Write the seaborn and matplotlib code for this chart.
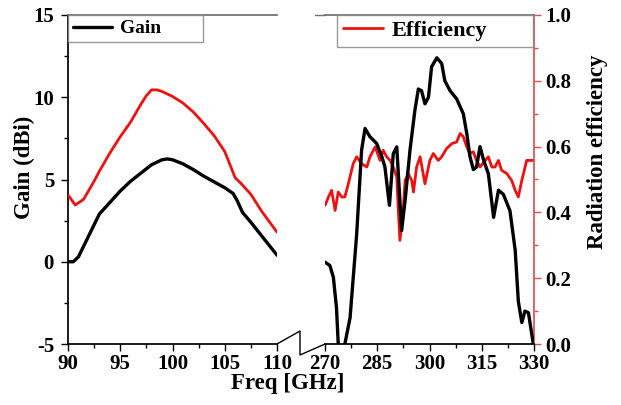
import numpy as np
import pandas as pd
import matplotlib
matplotlib.use("Agg")
import matplotlib.pyplot as plt
from matplotlib.lines import Line2D
from matplotlib.ticker import MultipleLocator
import seaborn as sns

# ---------------- data ----------------
# W-band (90-110 GHz)
freq_low_gain = [90, 90.5, 91, 92, 93, 94, 95, 96, 97, 98, 99, 99.5, 100, 101, 102,
                 103, 104, 105, 105.8, 106.2, 106.7, 107.5, 108.5, 110]
gain_low = [0.0, 0.0, 0.3, 1.6, 2.9, 3.6, 4.3, 4.9, 5.4, 5.9, 6.2, 6.25, 6.2, 5.95,
            5.6, 5.2, 4.85, 4.5, 4.15, 3.7, 3.0, 2.4, 1.6, 0.4]

freq_low_eff = [90, 90.7, 91.5, 92.5, 93, 94, 95, 96, 97, 97.5, 98, 98.5, 99, 100,
                101, 102, 103, 104, 105, 106, 106.5, 107.5, 108.5, 110]
eff_low = [0.453, 0.4225, 0.44, 0.495, 0.525, 0.58, 0.63, 0.675, 0.73, 0.755, 0.7725,
           0.7725, 0.7675, 0.7525, 0.7325, 0.705, 0.67, 0.6325, 0.585, 0.505, 0.49,
           0.455, 0.405, 0.34]

# Sub-THz band (270-330 GHz)
freq_high_gain = [270, 271.4, 272.4, 273.3, 273.8, 274.7, 275.7, 277.2, 279.1, 280.5,
                  281.5, 282.9, 284.8, 286.3, 287.2, 288.5, 289.6, 290.6, 291.5, 292.0,
                  293.0, 294.4, 295.8, 296.8, 297.7, 298.7, 299.7, 300.6, 302.1, 303.5,
                  304.4, 305.9, 307.8, 309.7, 310.7, 311.6, 312.6, 313.5, 314.5, 315.5,
                  316.9, 318.4, 319.8, 321.2, 323.1, 324.6, 325.5, 326.5, 327.4, 328.4,
                  329.8]
gain_high = [-0.02, -0.23, -0.94, -2.8, -5.0, -7.5, -5.0, -3.4, 1.7, 6.78,
             8.1, 7.6, 7.2, 6.4, 5.76, 3.43, 6.57, 6.98, 3.73, 1.9,
             3.73, 6.78, 9.2, 10.5, 10.4, 9.6, 10.0, 11.85, 12.4, 12.05,
             11.0, 10.4, 9.9, 9.0, 7.8, 6.4, 5.6, 5.76, 7.0, 6.2,
             5.35, 2.7, 4.35, 4.1, 3.1, 0.7, -2.4, -3.7, -3.0, -3.1,
             -5.0]

freq_high_eff = [270, 271, 271.9, 272.9, 273.8, 274.8, 275.7, 276.7, 278.1, 279.1,
                 280.5, 282.0, 282.9, 284.4, 285.8, 286.7, 287.7, 288.7, 289.6, 290.6,
                 291.1, 291.5, 292.3, 293.0, 293.9, 294.9, 295.4, 296.3, 297.3, 298.7,
                 300.1, 301.1, 302.5, 303.5, 304.9, 306.4, 307.8, 308.8, 309.7, 310.7,
                 311.6, 312.6, 313.5, 314.5, 316.0, 316.9, 317.9, 318.8, 319.8, 320.7,
                 322.2, 323.6, 324.6, 325.5, 326.5, 327.9, 329.8]
eff_high = [0.421, 0.447, 0.467, 0.406, 0.462, 0.447, 0.447, 0.487, 0.548, 0.569,
            0.548, 0.538, 0.569, 0.599, 0.558, 0.589, 0.569, 0.558, 0.538, 0.508,
            0.396, 0.315, 0.386, 0.497, 0.518, 0.497, 0.462, 0.538, 0.569, 0.487,
            0.558, 0.579, 0.558, 0.569, 0.594, 0.609, 0.614, 0.640, 0.63, 0.599,
            0.579, 0.584, 0.558, 0.538, 0.558, 0.569, 0.538, 0.538, 0.558, 0.528,
            0.518, 0.497, 0.467, 0.447, 0.497, 0.558, 0.558]

low_ticks = [90, 95, 100, 105, 110]
high_ticks = [270, 285, 300, 315, 330]
gain_ticks = [-5, 0, 5, 10, 15]
eff_ticks = [0.0, 0.2, 0.4, 0.6, 0.8, 1.0]

# ---------------- style ----------------
sns.set_theme(style="ticks")
plt.rcParams["font.family"] = ["Liberation Serif", "DejaVu Serif"]
plt.rcParams["font.weight"] = "bold"
for k in ("text.color", "axes.labelcolor", "xtick.color", "ytick.color"):
    plt.rcParams[k] = "black"
FS_TICK = 15
FS_LAB = 16.5
BLACK = "#000000"
RED = "#ee1111"
SPINE_RED = "#e05050"
W, H = 621, 405

fig = plt.figure(figsize=(6.21, 4.05), dpi=100)

def fbox(x0, x1, y0, y1):
    return [x0 / W, 1 - y1 / H, (x1 - x0) / W, (y1 - y0) / H]

axL = fig.add_axes(fbox(68, 277, 15, 344))
axR = fig.add_axes(fbox(325, 534, 15, 344))
axL2 = axL.twinx()
axR2 = axR.twinx()

lw_k, lw_r = 2.4, 2.0
sns.lineplot(x=freq_low_gain, y=gain_low, ax=axL, color=BLACK, lw=lw_k, sort=False)
sns.lineplot(x=freq_low_eff, y=eff_low, ax=axL2, color=RED, lw=lw_r, sort=False)
sns.lineplot(x=freq_high_gain, y=gain_high, ax=axR, color=BLACK, lw=lw_k, sort=False)
sns.lineplot(x=freq_high_eff, y=eff_high, ax=axR2, color=RED, lw=lw_r, sort=False)

# draw gain above efficiency in the right panel
axR.set_zorder(axR2.get_zorder() + 1)
axR.patch.set_visible(False)

for a in (axL, axL2):
    a.set_xlim(90, 110)
for a in (axR, axR2):
    a.set_xlim(270, 330)
for a in (axL, axR):
    a.set_ylim(-5, 15)
for a in (axL2, axR2):
    a.set_ylim(0, 1.0)

# left panel
axL.set_xticks(low_ticks)
axL.set_xticklabels([str(t) for t in low_ticks])
axL.xaxis.set_minor_locator(MultipleLocator(2.5))
axL.set_yticks(gain_ticks)
axL.set_yticklabels([str(t) for t in gain_ticks])
axL.yaxis.set_minor_locator(MultipleLocator(2.5))
axL.spines["right"].set_visible(False)
axL.spines["top"].set_color("#707070")
axL.spines["left"].set_color(BLACK)
axL.spines["bottom"].set_color(BLACK)
axL.tick_params(axis="both", which="major", direction="out", length=5, width=1,
                colors=BLACK, labelsize=FS_TICK, pad=2)
axL.tick_params(axis="both", which="minor", direction="out", length=3, width=1, colors=BLACK)
axL.tick_params(axis="y", pad=5)
axL2.axis("off")

# right panel
axR.set_xticks(high_ticks)
axR.set_xticklabels([str(t) for t in high_ticks])
axR.xaxis.set_minor_locator(MultipleLocator(7.5))
axR.tick_params(axis="x", which="major", direction="out", length=5, width=1,
                colors=BLACK, labelsize=FS_TICK, pad=2)
axR.tick_params(axis="x", which="minor", direction="out", length=3, width=1, colors=BLACK)
axR.tick_params(axis="y", which="both", left=False, labelleft=False, right=False)
for s in ("left", "right"):
    axR.spines[s].set_visible(False)
axR.spines["top"].set_color("#707070")
axR.spines["bottom"].set_color(BLACK)
for s in ("left", "top", "bottom"):
    axR2.spines[s].set_visible(False)
axR2.spines["right"].set_color(SPINE_RED)
axR2.set_yticks(eff_ticks)
axR2.set_yticklabels([f"{t:.1f}" for t in eff_ticks])
axR2.yaxis.set_minor_locator(MultipleLocator(0.1))
axR2.tick_params(axis="y", which="major", direction="out", length=5, width=1,
                 color=SPINE_RED, labelcolor=BLACK, labelsize=FS_TICK, pad=3)
axR2.tick_params(axis="y", which="minor", direction="out", length=3, width=1, color=SPINE_RED)

for a in (axL, axL2, axR, axR2):
    a.set_xlabel("")
    a.set_ylabel("")
for a in (axL, axR, axR2):
    for lab in a.get_xticklabels() + a.get_yticklabels():
        lab.set_fontweight("bold")
        lab.set_color(BLACK)

# legends
hK = [Line2D([], [], color=BLACK, lw=lw_k)]
hR = [Line2D([], [], color=RED, lw=lw_r)]
legG = axL.legend(hK, ["Gain"], loc="upper left",
                  bbox_to_anchor=(0.0, 0.0, 135 / 209, 1.0), mode="expand",
                  borderaxespad=0, frameon=True, fancybox=False, edgecolor="#808080",
                  prop={"size": 14, "weight": "bold"}, handlelength=2.0,
                  handletextpad=0.4, borderpad=0.25)
legG.get_frame().set_linewidth(1.0)
legE = axR.legend(hR, ["Efficiency"], loc="upper left",
                  bbox_to_anchor=(12 / 209, 0.0, 196 / 209, 1.0), mode="expand",
                  borderaxespad=0, frameon=True, fancybox=False, edgecolor="#808080",
                  prop={"size": 16, "weight": "bold"}, handlelength=1.8,
                  handletextpad=0.4, borderpad=0.25)
legE.get_frame().set_linewidth(1.0)
for leg in (legG, legE):
    for t in leg.get_texts():
        t.set_color(BLACK)

# axis labels
fig.text(24 / W, 1 - 167 / H, "Gain (dBi)", rotation=90, ha="center", va="center",
         fontsize=FS_LAB, fontweight="bold", color=BLACK)
fig.text(598 / W, 1 - 152 / H, "Radiation efficiency", rotation=90, ha="center",
         va="center", fontsize=FS_LAB, fontweight="bold", color=BLACK)
fig.text(288 / W, 1 - 383 / H, "Freq [GHz]", ha="center", va="center",
         fontsize=FS_LAB, fontweight="bold", color=BLACK)

# axis break zig-zag and top line extension
def fpts(xs, ys):
    return [x / W for x in xs], [1 - y / H for y in ys]

zx, zy = fpts([277, 300, 300, 325], [344, 331, 355, 344])
fig.add_artist(Line2D(zx, zy, color=BLACK, lw=1.0, transform=fig.transFigure))
tx, ty = fpts([315, 325], [15, 15])
fig.add_artist(Line2D(tx, ty, color="#707070", lw=1.0, transform=fig.transFigure))

fig.savefig("out.png", dpi=100)
